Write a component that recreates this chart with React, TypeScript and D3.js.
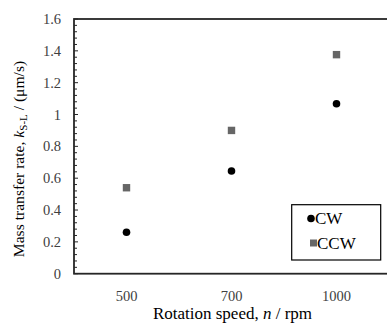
import React from "react";
import * as d3 from "d3";

const categories = ["500", "700", "1000"];
const cwValues = [0.26, 0.645, 1.068];
const ccwValues = [0.54, 0.90, 1.376];
const yTicks = [0, 0.2, 0.4, 0.6, 0.8, 1, 1.2, 1.4, 1.6];
const seriesNames = ["CW", "CCW"];

const W = 387;
const H = 325;
const left = 74;
const right = 389;
const top = 19;
const bottom = 273.7;
const font = "Liberation Serif, serif";

export default function App() {
  const x = d3.scaleBand<string>().domain(categories).range([left, right]);
  const y = d3.scaleLinear().domain([0, 1.6]).range([bottom, top]);
  const minor = d3.range(0, 1.6001, 0.04);
  const cx = (c: string) => (x(c) as number) + x.bandwidth() / 2;
  const axisColor = "#262626";
  const ts: React.CSSProperties = { fontFamily: font };
  return (
    <svg
      width={W}
      height={H}
      style={{ position: "absolute", left: 0, top: 0, fontFamily: font }}
    >
      <rect x={0} y={0} width={W} height={H} fill="#fff" />
      {minor.map((v, i) => (
        <line
          key={"m" + i}
          x1={left}
          x2={left + (i % 5 === 0 ? 4 : 3)}
          y1={y(v)}
          y2={y(v)}
          stroke={axisColor}
          strokeWidth={1}
        />
      ))}
      <rect
        x={left}
        y={top}
        width={right - left}
        height={bottom - top}
        fill="none"
        stroke={axisColor}
        strokeWidth={1.8}
      />
      {yTicks.map((v) => (
        <text
          key={"y" + v}
          x={61}
          y={y(v)}
          dy="0.35em"
          textAnchor="end"
          fontSize={14.5}
          fill="#404040"
          style={ts}
        >
          {d3.format("~g")(v)}
        </text>
      ))}
      {categories.map((c) => (
        <text
          key={"x" + c}
          x={cx(c)}
          y={301}
          textAnchor="middle"
          fontSize={14.5}
          fill="#404040"
          style={ts}
        >
          {c}
        </text>
      ))}
      <text x={232.5} y={319} textAnchor="middle" fontSize={17} fill="#000" style={ts}>
        Rotation speed, <tspan fontStyle="italic">n</tspan> / rpm
      </text>
      <text
        transform={`translate(24, 159) rotate(-90)`}
        textAnchor="middle"
        fontSize={15.6}
        fill="#000"
        style={ts}
      >
        Mass transfer rate, <tspan fontStyle="italic">k</tspan>
        <tspan fontSize={11} dy={3}>S-L</tspan>
        <tspan dy={-3}> / (μm/s)</tspan>
      </text>
      {categories.map((c, i) => (
        <rect
          key={"s" + c}
          x={cx(c) - 3.7}
          y={y(ccwValues[i]) - 3.7}
          width={7.4}
          height={7.4}
          fill="#666666"
        />
      ))}
      {categories.map((c, i) => (
        <circle key={"c" + c} cx={cx(c)} cy={y(cwValues[i])} r={3.8} fill="#000" />
      ))}
      <rect
        x={291.7}
        y={204.7}
        width={89}
        height={55.3}
        fill="#fff"
        stroke="#000"
        strokeWidth={1.2}
      />
      <circle cx={311} cy={218.5} r={3.8} fill="#000" />
      <text x={315} y={224} fontSize={17} fill="#000" style={ts}>
        {seriesNames[0]}
      </text>
      <rect x={310} y={239.5} width={7} height={7} fill="#666666" />
      <text x={317} y={249} fontSize={17} fill="#000" style={ts}>
        {seriesNames[1]}
      </text>
    </svg>
  );
}
